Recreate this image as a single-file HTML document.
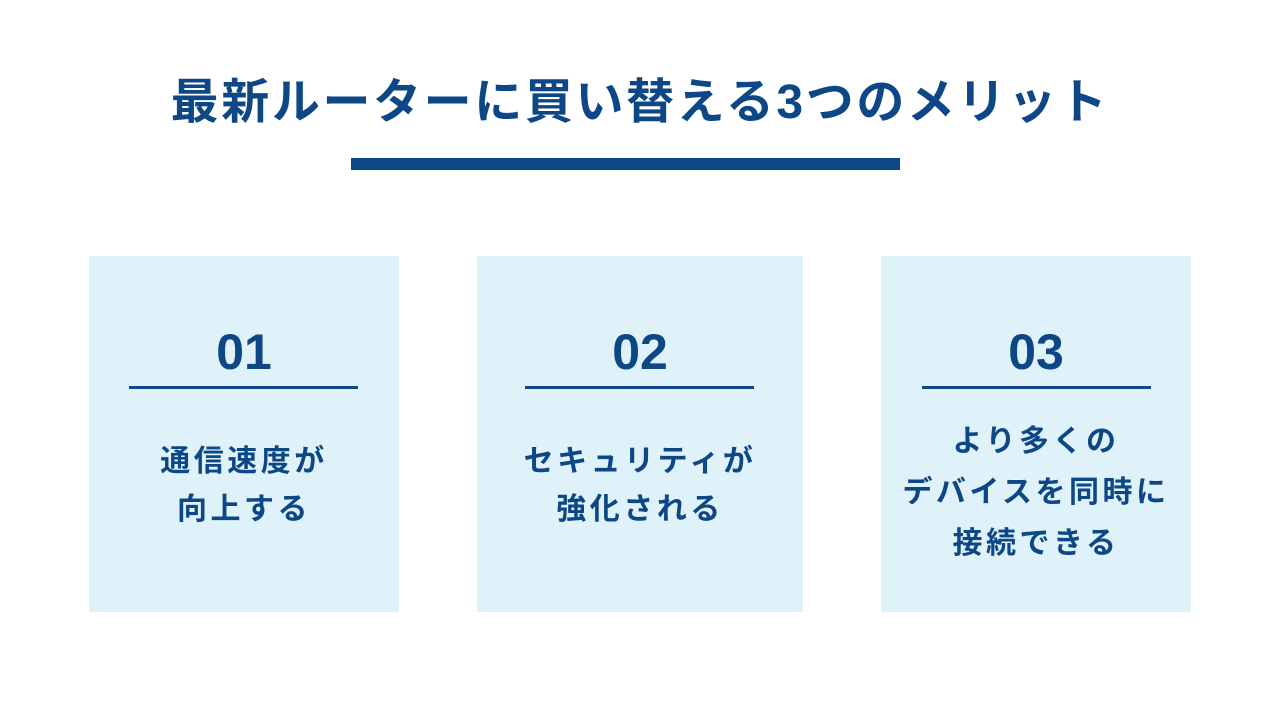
<!DOCTYPE html>
<html><head><meta charset="utf-8"><style>
html,body{margin:0;padding:0;background:#fff;}
body{width:1280px;height:720px;position:relative;overflow:hidden;font-family:"Liberation Sans","Noto Sans CJK JP",sans-serif;color:#0d4785;font-weight:bold;}
.title{position:absolute;left:0;width:1280px;top:72px;text-align:center;font-size:48px;line-height:62px;letter-spacing:2.6px;}
.bar{position:absolute;left:351px;top:158px;width:549px;height:12px;background:#0d4785;}
.box{position:absolute;top:256px;height:356px;background:#e0f2f9;}
.num{position:absolute;left:0;right:0;top:322px;text-align:center;font-size:50px;line-height:60px;}
.line{position:absolute;top:386px;height:3px;background:#0d4785;width:229px;}
.txt{position:absolute;left:0;right:0;text-align:center;font-size:30px;letter-spacing:3.5px;}
</style></head><body>
<div class="title">最新ルーターに買い替える3つのメリット</div>
<div class="bar"></div>

<div class="box" style="left:89px;width:310px;"></div>
<div class="box" style="left:477px;width:326px;"></div>
<div class="box" style="left:881px;width:310px;"></div>

<div class="num" style="left:89px;width:310px;right:auto;">01</div>
<div class="num" style="left:477px;width:326px;right:auto;">02</div>
<div class="num" style="left:881px;width:310px;right:auto;">03</div>

<div class="line" style="left:129px;"></div>
<div class="line" style="left:525px;"></div>
<div class="line" style="left:922px;"></div>

<div class="txt" style="left:89px;width:310px;right:auto;top:438px;line-height:48px;">通信速度が<br>向上する</div>
<div class="txt" style="left:477px;width:326px;right:auto;top:438px;line-height:48px;">セキュリティが<br>強化される</div>
<div class="txt" style="left:881px;width:310px;right:auto;top:416px;line-height:51px;">より多くの<br>デバイスを同時に<br>接続できる</div>
</body></html>
